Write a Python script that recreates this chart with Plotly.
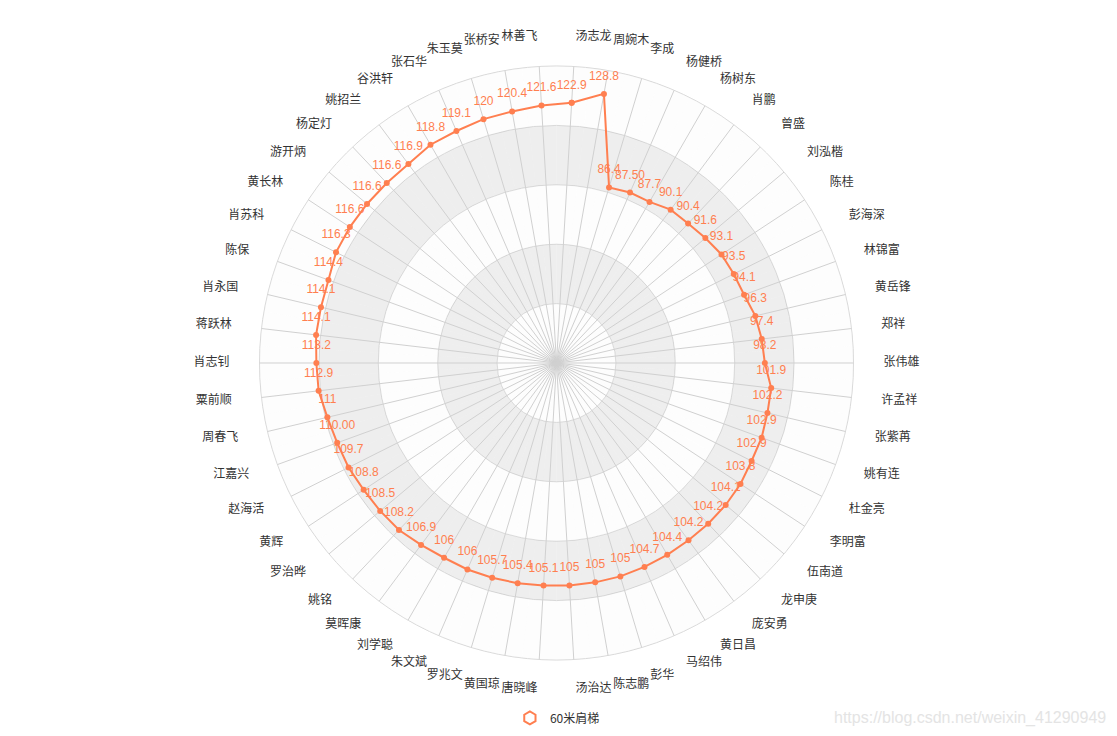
import plotly.graph_objects as go

# ---------------- data ----------------
names = [
    "汤志龙", "周婉木", "李成", "杨健桥", "杨树东", "肖鹏", "曾盛", "刘泓楷", "陈桂", "彭海深",
    "林锦富", "黄岳锋", "郑祥", "张伟雄", "许孟祥", "张紫苒", "姚有连", "杜金亮", "李明富", "伍南道",
    "龙申庚", "庞安勇", "黄日昌", "马绍伟", "彭华", "陈志鹏", "汤治达", "唐晓峰", "黄国琼", "罗兆文",
    "朱文斌", "刘学聪", "莫晖康", "姚铭", "罗治晔", "黄辉", "赵海活", "江嘉兴", "周春飞", "粟前顺",
    "肖志钊", "蒋跃林", "肖永国", "陈保", "肖苏科", "黄长林", "游开炳", "杨定灯", "姚招兰", "谷洪轩",
    "张石华", "朱玉莫", "张桥安", "林善飞",
]
value_labels = [
    "122.9", "128.8", "86.4", "87.50", "87.7", "90.1", "90.4", "91.6", "93.1", "93.5",
    "94.1", "96.3", "97.4", "98.2", "101.9", "102.2", "102.9", "102.9", "103.8", "104.1",
    "104.2", "104.2", "104.4", "104.7", "105", "105", "105", "105.1", "105.4", "105.7",
    "106", "106", "106.9", "108.2", "108.5", "108.8", "109.7", "110.00", "111", "112.9",
    "113.2", "114.1", "114.1", "114.4", "116.3", "116.6", "116.6", "116.6", "116.9", "118.8",
    "119.1", "120", "120.4", "121.6",
]
values = [float(v) for v in value_labels]
series_name = "60米肩梯"
radial_max = 140
split_ticks = [0, 28, 56, 84, 112, 140]

# ---------------- style / layout ----------------
LINE_COLOR = "#ff7f50"
BAND_COLORS = ["rgba(250,250,250,0.3)", "rgba(200,200,200,0.3)"]
CN_FONT = "Noto Sans CJK SC, Microsoft YaHei, sans-serif"
W, H = 1117, 736
CX, CY = 556.5, 363.0          # radar centre (px from top-left)
R_PX = 297.0                   # outer ring radius (px)
NAME_GAP_PX = 30.0             # indicator names sit this far outside the ring
PX_PER_UNIT = R_PX / radial_max
NAME_RADIUS = (R_PX + NAME_GAP_PX) / PX_PER_UNIT
RANGE_MAX = NAME_RADIUS + 2.0  # leave the names inside the axis range
HALF = RANGE_MAX * PX_PER_UNIT
dom_x = [(CX - HALF) / W, (CX + HALF) / W]
dom_y = [(H - CY - HALF) / H, (H - CY + HALF) / H]

n = len(names)
fig = go.Figure()

# alternating split areas (rings between split ticks)
for i in range(len(split_ticks) - 1):
    inner, outer = split_ticks[i], split_ticks[i + 1]
    fig.add_trace(go.Barpolar(
        theta=names,
        r=[outer - inner] * n,
        base=[inner] * n,
        marker=dict(color=BAND_COLORS[i % 2], line=dict(width=0)),
        hoverinfo="skip",
        showlegend=False,
    ))

# indicator axis lines (spokes) from centre to outer ring
spoke_theta, spoke_r = [], []
for nm in names:
    spoke_theta += [nm, nm, None]
    spoke_r += [0, radial_max, None]
fig.add_trace(go.Scatterpolar(
    theta=spoke_theta,
    r=spoke_r,
    mode="lines",
    line=dict(color="#d0d0d0", width=1),
    connectgaps=False,
    hoverinfo="skip",
    showlegend=False,
))

# series line (closed polygon)
fig.add_trace(go.Scatterpolar(
    theta=names + names[:1],
    r=values + values[:1],
    mode="lines+markers",
    line=dict(color=LINE_COLOR, width=2),
    marker=dict(color=LINE_COLOR, size=6),
    name=series_name,
    showlegend=False,
))

# value labels
fig.add_trace(go.Scatterpolar(
    theta=names,
    r=values,
    mode="markers+text",
    text=value_labels,
    textposition="top center",
    textfont=dict(color=LINE_COLOR, size=12, family="Liberation Sans, Arial, sans-serif"),
    marker=dict(color="rgba(0,0,0,0)", size=16),
    hoverinfo="skip",
    showlegend=False,
))

# indicator names (left-aligned on the right half, right-aligned on the left half)
name_pos = ["middle right" if (i + 0.5) * 360 / n < 180 else "middle left" for i in range(n)]
fig.add_trace(go.Scatterpolar(
    theta=names,
    r=[NAME_RADIUS] * n,
    mode="text",
    text=names,
    textposition=name_pos,
    textfont=dict(color="#333333", size=12, family=CN_FONT),
    cliponaxis=False,
    hoverinfo="skip",
    showlegend=False,
))

# legend entry
fig.add_trace(go.Scatterpolar(
    theta=[names[0]],
    r=[None],
    mode="markers",
    marker=dict(symbol="hexagon-open", color=LINE_COLOR, size=13, line=dict(width=2, color=LINE_COLOR)),
    name=series_name,
    showlegend=True,
))

fig.update_layout(
    width=W,
    height=H,
    margin=dict(l=0, r=0, t=0, b=0),
    paper_bgcolor="white",
    plot_bgcolor="white",
    barmode="overlay",
    polar=dict(
        domain=dict(x=dom_x, y=dom_y),
        bgcolor="rgba(0,0,0,0)",
        bargap=0,
        radialaxis=dict(
            range=[0, RANGE_MAX],
            tickvals=split_ticks[1:],
            showticklabels=False,
            ticks="",
            showline=False,
            gridcolor="#d6d6d6",
            gridwidth=1,
        ),
        angularaxis=dict(
            type="category",
            categoryorder="array",
            categoryarray=names,
            direction="clockwise",
            rotation=90 - 180 / n,
            showticklabels=False,
            ticks="",
            showgrid=False,
            showline=False,
        ),
    ),
    legend=dict(
        orientation="h",
        x=0.499,
        xanchor="center",
        y=0.0245,
        yanchor="middle",
        font=dict(size=12, color="#333333", family=CN_FONT),
        bgcolor="rgba(0,0,0,0)",
    ),
    annotations=[
        dict(
            text="https://blog.csdn.net/weixin_41290949",
            xref="paper", yref="paper",
            x=0.992, y=0.0245, xanchor="right", yanchor="middle",
            showarrow=False,
            font=dict(size=16, color="#e4e4e4", family="Liberation Sans, Arial, sans-serif"),
        )
    ],
)

fig.write_html("out.html", config={"displayModeBar": False},
               post_script="document.body.style.margin='0';")
